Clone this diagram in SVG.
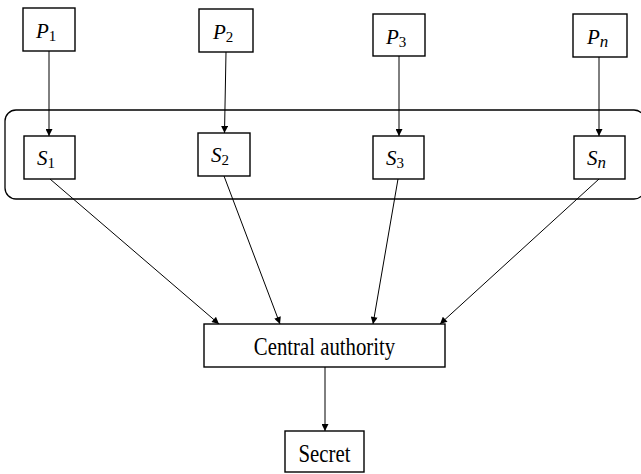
<svg xmlns="http://www.w3.org/2000/svg" width="641" height="474" viewBox="0 0 641 474">
  <style>
    .box { fill: #ffffff; stroke: #000000; stroke-width: 1.4; }
    .grp { fill: none; stroke: #000000; stroke-width: 1.3; }
    .edge { fill: none; stroke: #000000; stroke-width: 1; marker-end: url(#arrow); }
    .var { font-family: "Liberation Serif", "DejaVu Serif", serif; font-style: italic; font-size: 21px; fill: #000; }
    .sub { font-family: "Liberation Serif", "DejaVu Serif", serif; font-style: normal; font-size: 15px; fill: #000; }
    .subi { font-family: "Liberation Serif", "DejaVu Serif", serif; font-style: italic; font-size: 17px; fill: #000; }
    .lbl { font-family: "Liberation Serif", "Times New Roman", serif; font-size: 26px; fill: #000; text-anchor: middle; }
  </style>
  <defs>
    <marker id="arrow" viewBox="0 0 10 10" refX="10" refY="5" markerWidth="8" markerHeight="7" markerUnits="userSpaceOnUse" orient="auto">
      <path d="M0,0 L10,5 L0,10 z" fill="#000"/>
    </marker>
  </defs>

  <!-- container around the share holders -->
  <rect class="grp" x="5" y="110" width="640" height="89" rx="11" ry="11"/>

  <!-- connectors -->
  <g id="connectors">
    <line class="edge" x1="49" y1="51" x2="49" y2="136"/>
    <line class="edge" x1="226" y1="52" x2="224.5" y2="133"/>
    <line class="edge" x1="399" y1="56" x2="399" y2="136"/>
    <line class="edge" x1="599" y1="57" x2="599" y2="136"/>
    <line class="edge" x1="50" y1="179" x2="219" y2="324"/>
    <line class="edge" x1="224" y1="176" x2="280" y2="324"/>
    <line class="edge" x1="398" y1="179" x2="373" y2="324"/>
    <line class="edge" x1="599" y1="179" x2="440" y2="324"/>
    <line class="edge" x1="325" y1="367" x2="325" y2="431"/>
  </g>

  <!-- participants -->
  <g id="P1">
    <rect class="box" x="23" y="8" width="52" height="43"/>
    <text x="36" y="38"><tspan class="var">P</tspan><tspan class="sub" dy="3">1</tspan></text>
  </g>
  <g id="P2">
    <rect class="box" x="199" y="9" width="54" height="43"/>
    <text x="213" y="39"><tspan class="var">P</tspan><tspan class="sub" dy="3">2</tspan></text>
  </g>
  <g id="P3">
    <rect class="box" x="373" y="14" width="52" height="42"/>
    <text x="386" y="44"><tspan class="var">P</tspan><tspan class="sub" dy="3">3</tspan></text>
  </g>
  <g id="Pn">
    <rect class="box" x="573" y="14" width="54" height="43"/>
    <text x="587" y="44"><tspan class="var">P</tspan><tspan class="subi" dy="3">n</tspan></text>
  </g>

  <!-- shares -->
  <g id="S1">
    <rect class="box" x="24" y="136" width="51" height="43"/>
    <text x="37" y="165"><tspan class="var">S</tspan><tspan class="sub" dy="3">1</tspan></text>
  </g>
  <g id="S2">
    <rect class="box" x="198" y="133" width="52" height="43"/>
    <text x="211" y="162"><tspan class="var">S</tspan><tspan class="sub" dy="3">2</tspan></text>
  </g>
  <g id="S3">
    <rect class="box" x="373" y="136" width="51" height="43"/>
    <text x="386" y="165"><tspan class="var">S</tspan><tspan class="sub" dy="3">3</tspan></text>
  </g>
  <g id="Sn">
    <rect class="box" x="574" y="136" width="51" height="43"/>
    <text x="587" y="165"><tspan class="var">S</tspan><tspan class="subi" dy="3">n</tspan></text>
  </g>

  <g id="central-authority">
    <rect class="box" x="204" y="324" width="241" height="43"/>
    <text class="lbl" transform="translate(324.5 355) scale(0.8 1)">Central authority</text>
  </g>

  <g id="secret">
    <rect class="box" x="285" y="431" width="79" height="41"/>
    <text class="lbl" transform="translate(324.5 462) scale(0.8 1)">Secret</text>
  </g>
</svg>
